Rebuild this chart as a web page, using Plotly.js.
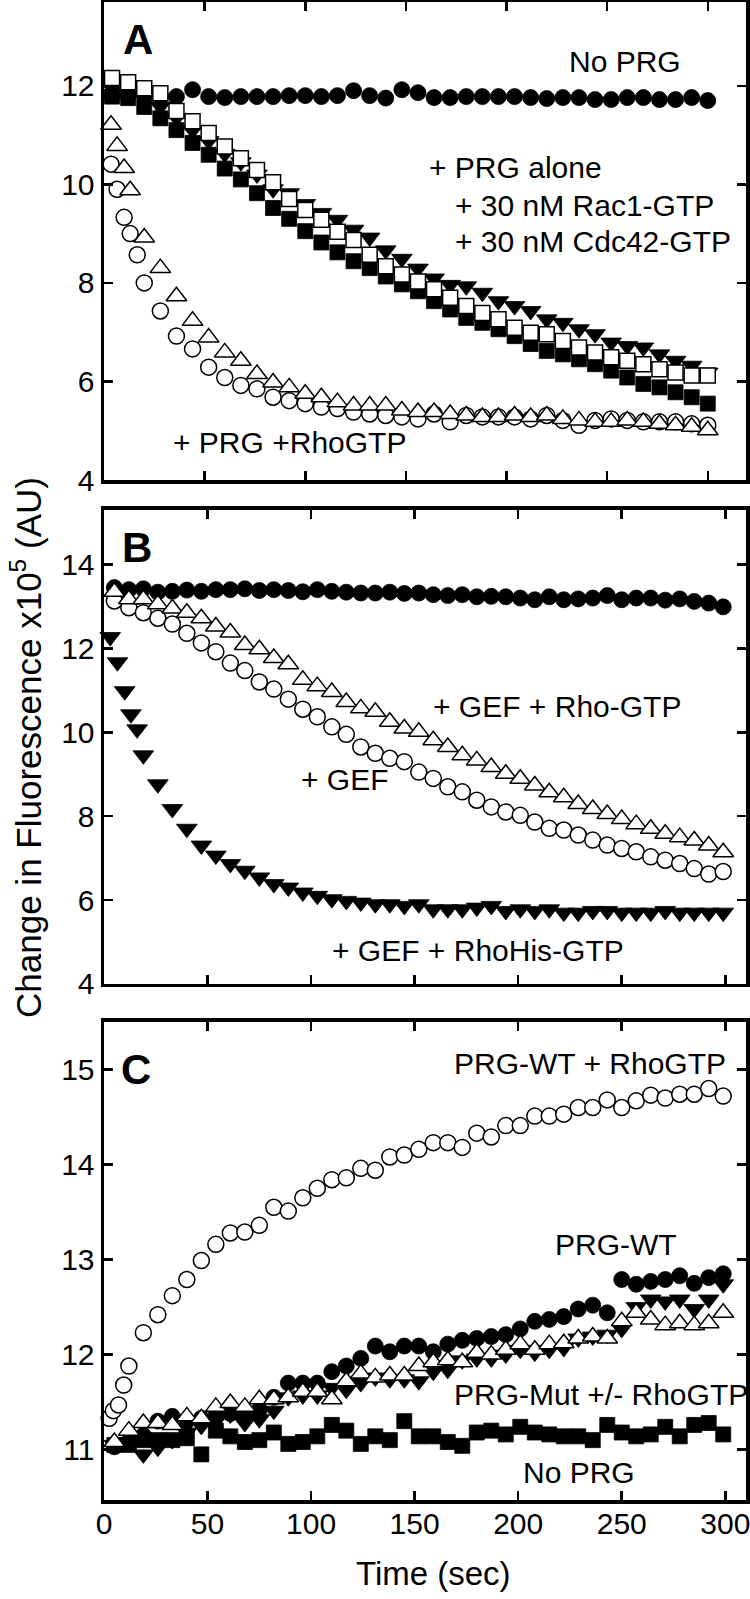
<!DOCTYPE html>
<html>
<head>
<meta charset="utf-8">
<script src="https://cdn.plot.ly/plotly-3.0.1.min.js"></script>
<style>
	html, body { margin: 0; padding: 0; background: #fff; }
	#chart { width: 750px; height: 1599px; }
</style>
</head>
<body>
<div id="chart"></div>
<script>
'use strict';

// ---- time points (sec) ----
const timeA = [4, 12, 20, 28, 36, 44, 52, 60, 68, 76, 84, 92, 100, 108, 116, 124, 132, 140, 148, 156, 164, 172, 180, 188, 196, 204, 212, 220, 228, 236, 244, 252, 260, 268, 276, 284, 292, 300];
const timeA_earlyCircles = [3.5, 6.5, 10, 13, 16.5];
const timeA_earlyTriangles = [3.5, 6.5, 10, 13];
const timeBC = [5, 12, 19, 26, 33, 40, 47, 54, 61, 68, 75, 82, 89, 96, 103, 110, 117, 124, 131, 138, 145, 152, 159, 166, 173, 180, 187, 194, 201, 208, 215, 222, 229, 236, 243, 250, 257, 264, 271, 278, 285, 292, 299];
const timeB_earlyTriangles = [3, 6.5, 10, 13, 16];
const timeC_earlyCircles = [2.5, 4.5, 7, 9.5, 12];

// ---- panel A ----
const A_noPRG = [11.8, 11.8, 11.8, 11.78, 11.78, 11.92, 11.78, 11.76, 11.78, 11.78, 11.78, 11.8, 11.8, 11.78, 11.8, 11.9, 11.8, 11.75, 11.92, 11.86, 11.76, 11.76, 11.78, 11.78, 11.78, 11.78, 11.76, 11.74, 11.76, 11.76, 11.72, 11.72, 11.76, 11.76, 11.72, 11.72, 11.76, 11.7];
const A_cdc42 = [11.95, 11.85, 11.75, 11.58, 11.35, 11.1, 10.88, 10.62, 10.45, 10.2, 9.9, 9.82, 9.6, 9.42, 9.28, 9.08, 8.92, 8.66, 8.49, 8.29, 8.09, 7.96, 7.93, 7.8, 7.63, 7.53, 7.43, 7.26, 7.19, 7.06, 6.96, 6.79, 6.72, 6.69, 6.55, 6.42, 6.32, 6.18];
const A_prgAlone = [11.78, 11.75, 11.57, 11.34, 11.1, 10.84, 10.6, 10.32, 10.1, 9.82, 9.52, 9.3, 9.05, 8.82, 8.62, 8.44, 8.3, 8.13, 7.97, 7.83, 7.63, 7.46, 7.29, 7.19, 7.06, 6.92, 6.76, 6.62, 6.55, 6.45, 6.35, 6.22, 6.08, 5.95, 5.88, 5.78, 5.68, 5.55];
const A_rac1 = [12.16, 12.07, 11.95, 11.85, 11.49, 11.28, 11.04, 10.77, 10.53, 10.29, 10.04, 9.7, 9.48, 9.28, 9.04, 8.87, 8.57, 8.34, 8.17, 8.03, 7.87, 7.7, 7.53, 7.39, 7.26, 7.09, 6.99, 6.96, 6.82, 6.69, 6.59, 6.49, 6.42, 6.35, 6.25, 6.18, 6.12, 6.12];
const A_rhoCircles = [10.41, 9.9, 9.33, 9.0, 8.57, 8.0, 7.43, 6.92, 6.66, 6.29, 6.08, 5.92, 5.85, 5.68, 5.61, 5.55, 5.48, 5.45, 5.38, 5.34, 5.31, 5.28, 5.24, 5.34, 5.18, 5.31, 5.28, 5.28, 5.28, 5.24, 5.31, 5.21, 5.11, 5.21, 5.24, 5.21, 5.18, 5.18, 5.18, 5.14, 5.11];
const A_rhoTriangles = [11.21, 10.78, 10.33, 9.88, 8.92, 8.3, 7.73, 7.23, 6.89, 6.59, 6.42, 6.15, 5.98, 5.88, 5.75, 5.68, 5.58, 5.51, 5.51, 5.51, 5.41, 5.38, 5.38, 5.34, 5.31, 5.28, 5.28, 5.31, 5.28, 5.31, 5.24, 5.21, 5.18, 5.18, 5.21, 5.18, 5.14, 5.11, 5.08, 5.01];

// ---- panel B ----
const B_noGEF = [13.45, 13.4, 13.42, 13.34, 13.36, 13.39, 13.36, 13.4, 13.4, 13.42, 13.38, 13.4, 13.38, 13.35, 13.4, 13.36, 13.34, 13.32, 13.32, 13.34, 13.31, 13.32, 13.28, 13.26, 13.28, 13.23, 13.24, 13.23, 13.2, 13.16, 13.23, 13.16, 13.18, 13.2, 13.26, 13.16, 13.2, 13.2, 13.15, 13.18, 13.12, 13.08, 12.99];
const B_gef = [13.13, 12.97, 12.85, 12.72, 12.58, 12.36, 12.13, 11.92, 11.65, 11.47, 11.2, 11.03, 10.79, 10.55, 10.37, 10.13, 9.95, 9.65, 9.5, 9.38, 9.3, 9.05, 8.9, 8.7, 8.58, 8.38, 8.22, 8.1, 8.02, 7.86, 7.71, 7.67, 7.55, 7.43, 7.31, 7.23, 7.15, 7.03, 6.95, 6.87, 6.75, 6.62, 6.68];
const B_gefRho = [13.35, 13.17, 13.17, 13.05, 12.95, 12.85, 12.72, 12.52, 12.38, 12.08, 11.98, 11.77, 11.62, 11.25, 11.1, 10.96, 10.72, 10.57, 10.49, 10.25, 10.09, 10.01, 9.81, 9.65, 9.45, 9.33, 9.17, 9.01, 8.89, 8.73, 8.57, 8.45, 8.29, 8.17, 8.05, 7.93, 7.81, 7.7, 7.58, 7.5, 7.42, 7.3, 7.14];
const B_gefRhoHis = [12.27, 11.67, 10.98, 10.43, 10.07, 9.45, 8.76, 8.17, 7.7, 7.3, 7.06, 6.86, 6.7, 6.54, 6.38, 6.3, 6.18, 6.1, 6.02, 5.98, 5.94, 5.9, 5.9, 5.86, 5.9, 5.78, 5.78, 5.78, 5.82, 5.86, 5.74, 5.78, 5.74, 5.78, 5.7, 5.7, 5.74, 5.74, 5.7, 5.7, 5.7, 5.74, 5.7, 5.7, 5.7, 5.7];

// ---- panel C ----
const C_noPRG = [11.05, 11.05, 11.1, 11.1, 11.1, 11.12, 10.95, 11.2, 11.14, 11.08, 11.1, 11.18, 11.06, 11.08, 11.14, 11.26, 11.2, 11.06, 11.14, 11.1, 11.3, 11.14, 11.14, 11.08, 11.04, 11.18, 11.2, 11.16, 11.24, 11.18, 11.16, 11.14, 11.14, 11.1, 11.26, 11.18, 11.14, 11.16, 11.24, 11.14, 11.26, 11.28, 11.16];
const C_wt = [11.03, 11.08, 11.15, 11.3, 11.35, 11.3, 11.33, 11.36, 11.38, 11.36, 11.42, 11.55, 11.7, 11.7, 11.7, 11.82, 11.88, 11.96, 12.09, 12.03, 12.09, 12.09, 12.03, 12.11, 12.15, 12.17, 12.19, 12.21, 12.27, 12.35, 12.37, 12.4, 12.48, 12.52, 12.44, 12.79, 12.74, 12.77, 12.79, 12.83, 12.75, 12.81, 12.85];
const C_mutRho = [11.05, 11.08, 10.95, 11.02, 11.1, 11.18, 11.25, 11.3, 11.37, 11.28, 11.32, 11.41, 11.55, 11.57, 11.57, 11.65, 11.63, 11.7, 11.76, 11.74, 11.74, 11.72, 11.82, 11.84, 11.94, 11.96, 11.96, 12.0, 12.05, 12.02, 12.05, 12.07, 12.17, 12.19, 12.21, 12.27, 12.5, 12.58, 12.56, 12.58, 12.48, 12.58, 12.74];
const C_mut = [11.08, 11.2, 11.28, 11.28, 11.26, 11.35, 11.33, 11.45, 11.49, 11.45, 11.53, 11.53, 11.55, 11.61, 11.61, 11.53, 11.72, 11.8, 11.76, 11.78, 11.78, 11.88, 11.92, 11.94, 11.92, 12.02, 12.0, 12.05, 12.11, 12.05, 12.11, 12.12, 12.17, 12.19, 12.17, 12.35, 12.44, 12.37, 12.31, 12.33, 12.31, 12.33, 12.44];
const C_wtRho = [11.33, 11.41, 11.47, 11.68, 11.88, 12.23, 12.42, 12.62, 12.79, 12.99, 13.16, 13.28, 13.29, 13.36, 13.55, 13.51, 13.65, 13.75, 13.84, 13.86, 13.96, 13.94, 14.08, 14.1, 14.16, 14.23, 14.23, 14.18, 14.33, 14.29, 14.41, 14.41, 14.51, 14.51, 14.53, 14.6, 14.6, 14.68, 14.6, 14.67, 14.73, 14.7, 14.74, 14.74, 14.8, 14.72];

(function () {

	const FONT = 'Liberation Sans, Arial, sans-serif';

	/**
	* marker template - open markers are white filled
	*/
	const mk = ( symbol, filled, size = 16 ) => ({
		symbol: symbol,
		size: size,
		color: filled ? '#000' : '#fff',
		line: { color: '#000', width: filled ? 0.8 : 1.5 },
	});

	const trace = ( x, y, marker, n ) => ({
		x: x,
		y: y,
		type: 'scatter',
		mode: 'markers',
		marker: marker,
		xaxis: n === 1 ? 'x' : 'x' + n,
		yaxis: n === 1 ? 'y' : 'y' + n,
		cliponaxis: false,
		hoverinfo: 'skip',
	});

	const data = [
		// A
		trace( timeA, A_noPRG, mk('circle', true), 1 ),
		trace( timeA, A_cdc42, mk('triangle-down', true, 18), 1 ),
		trace( timeA, A_prgAlone, mk('square', true, 15), 1 ),
		trace( timeA, A_rac1, mk('square', false, 15), 1 ),
		trace( timeA_earlyCircles.concat( timeA.slice(2) ), A_rhoCircles, mk('circle', false), 1 ),
		trace( timeA_earlyTriangles.concat( timeA.slice(2) ), A_rhoTriangles, mk('triangle-up', false, 18), 1 ),
		// B
		trace( timeBC, B_noGEF, mk('circle', true), 2 ),
		trace( timeBC, B_gef, mk('circle', false), 2 ),
		trace( timeBC, B_gefRho, mk('triangle-up', false, 18), 2 ),
		trace( timeB_earlyTriangles.concat( timeBC.slice(2) ), B_gefRhoHis, mk('triangle-down', true, 18), 2 ),
		// C
		trace( timeBC, C_noPRG, mk('square', true, 15), 3 ),
		trace( timeBC, C_wt, mk('circle', true), 3 ),
		trace( timeBC, C_mutRho, mk('triangle-down', true, 18), 3 ),
		trace( timeBC, C_mut, mk('triangle-up', false, 18), 3 ),
		trace( timeC_earlyCircles.concat( timeBC.slice(2) ), C_wtRho, mk('circle', false), 3 ),
	];

	/**
	* framed axis with inside ticks on every side
	*/
	const axis = ( opts ) => Object.assign({
		showline: true,
		linewidth: 3.5,
		linecolor: '#000',
		mirror: 'ticks',
		ticks: 'inside',
		ticklen: 9,
		tickwidth: 2.5,
		tickcolor: '#000',
		showgrid: false,
		zeroline: false,
		fixedrange: true,
		tickfont: { family: FONT, size: 30, color: '#000' },
		ticklabelstandoff: 0,
		ticklabeloverflow: 'allow',
	}, opts );

	const label = ( text, x, y, n, opts = {} ) => Object.assign({
		text: text,
		x: x,
		y: y,
		xref: n === 1 ? 'x' : 'x' + n,
		yref: n === 1 ? 'y' : 'y' + n,
		xanchor: 'left',
		yanchor: 'middle',
		showarrow: false,
		font: { family: FONT, size: 30, color: '#000' },
	}, opts );

	const panelLetter = { xanchor: 'center', font: { family: FONT, size: 42, color: '#000' } };

	const layout = {
		width: 750,
		height: 1599,
		margin: { l: 104, r: 4, t: 2, b: 99 },
		paper_bgcolor: '#fff',
		plot_bgcolor: '#fff',
		showlegend: false,
		font: { family: FONT, color: '#000' },

		xaxis: axis({ anchor: 'y', range: [0, 319], dtick: 50, tick0: 0, showticklabels: false }),
		xaxis2: axis({ anchor: 'y2', range: [0, 310], dtick: 50, tick0: 0, showticklabels: false }),
		xaxis3: axis({ anchor: 'y3', range: [0, 310], dtick: 50, tick0: 0, ticklabelstandoff: -6 }),

		yaxis: axis({ anchor: 'x', domain: [0.6809, 1], range: [4, 13.7], dtick: 2, tick0: 0 }),
		yaxis2: axis({ anchor: 'x2', domain: [0.3445, 0.6609], range: [4, 15.3], dtick: 2, tick0: 0 }),
		yaxis3: axis({ anchor: 'x3', domain: [0, 0.3191], range: [10.47, 15.5], dtick: 1, tick0: 0 }),

		annotations: [
			label( '<b>A</b>', 16.9, 12.93, 1, panelLetter ),
			label( 'No PRG', 230, 12.49, 1 ),
			label( '+ PRG alone', 160.5, 10.34, 1 ),
			label( '+ 30 nM Rac1-GTP', 173.4, 9.58, 1 ),
			label( '+ 30 nM Cdc42-GTP', 173.4, 8.83, 1 ),
			label( '+ PRG +RhoGTP', 33.3, 4.77, 1 ),

			label( '<b>B</b>', 15.9, 14.4, 2, panelLetter ),
			label( '+ GEF + Rho-GTP', 157.7, 10.62, 2 ),
			label( '+ GEF', 94.1, 8.88, 2 ),
			label( '+ GEF + RhoHis-GTP', 109, 4.79, 2 ),

			label( '<b>C</b>', 15.4, 15.0, 3, panelLetter ),
			label( 'PRG-WT + RhoGTP', 167.9, 15.06, 3 ),
			label( 'PRG-WT', 216.6, 13.16, 3 ),
			label( 'PRG-Mut +/- RhoGTP', 167.9, 11.58, 3 ),
			label( 'No PRG', 201.2, 10.76, 3 ),

			// axis titles
			{
				text: 'Change in Fluorescence x10<sup>5</sup> (AU)',
				x: -0.1215, y: 0.5027, xref: 'paper', yref: 'paper',
				xanchor: 'center', yanchor: 'middle', textangle: -90,
				showarrow: false,
				font: { family: FONT, size: 35, color: '#000' },
			},
			{
				text: 'Time (sec)',
				x: 0.5125, y: -0.049, xref: 'paper', yref: 'paper',
				xanchor: 'center', yanchor: 'middle',
				showarrow: false,
				font: { family: FONT, size: 33, color: '#000' },
			},
		],
	};

	Plotly.newPlot( 'chart', data, layout, { displayModeBar: false, staticPlot: true } );

})();
</script>
</body>
</html>
